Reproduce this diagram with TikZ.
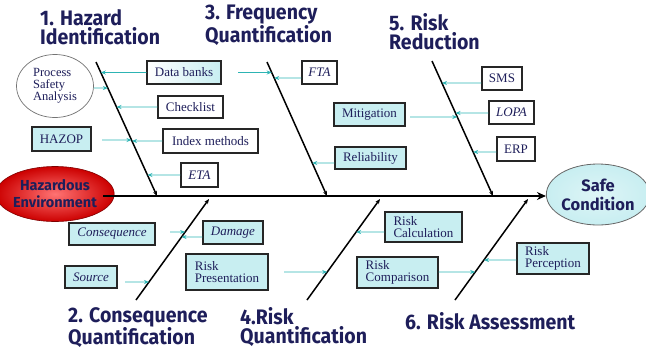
\documentclass[tikz,border=0pt]{standalone}
\usepackage{fontspec}
\setmainfont{Liberation Serif}
\newfontfamily\headfont[FakeStretch=0.93]{Fira Sans}
\newfontfamily\ellfont{Fira Sans}
\usetikzlibrary{arrows.meta,shapes.geometric}
\definecolor{navy}{HTML}{1E1E5A}
\definecolor{teal}{HTML}{2DB4B4}
\definecolor{cyanfill}{HTML}{C8EEF1}
\tikzset{
  heading/.style={anchor=north west,inner sep=0pt,align=left,text=navy,font=\headfont\bfseries\fontsize{21}{19}\selectfont},
  wbox/.style={draw=black!85,line width=1.1pt,fill=white,inner sep=0pt,text=navy,font=\fontsize{13}{12}\selectfont,align=left},
  cbox/.style={wbox,fill=cyanfill},
  gbox/.style={wbox,left color=white,right color=cyanfill},
  tarrow/.style={draw=teal,line width=0.9pt,-{Stealth[length=5pt,width=4pt]}},
  bone/.style={draw=black,line width=1.5pt,-{Stealth[length=5pt,width=4pt]}},
  spine/.style={draw=black,line width=2pt,-{Stealth[length=9pt,width=8pt]}}
}
\newcommand\fishArrow[3]{%
  \coordinate (tmpya) at (0,#3);
  \coordinate (tmpyb) at (10,#3);
  \draw[tarrow] (#1 |- tmpya) -- (intersection of #2t--#2b and tmpya--tmpyb);}
\begin{document}
\begin{tikzpicture}[x=1pt,y=-1pt]
\useasboundingbox (0,0) rectangle (646,349);
% headings
\node[heading] (h1) at (40,9) {1. Hazard\\Identification};
\node[heading] (h3) at (205,5) {3. Frequency\\Quantification};
\node[heading] (h5) at (389,13) {5. Risk\\Reduction};
\node[heading] (h2) at (68,307) {2. Consequence\\Quantification};
\node[heading] (h4) at (240,307) {4.Risk\\Quantification};
\node[heading] (h6) at (405,312) {6. Risk Assessment};
% end ellipses
\node[ellipse,draw=red!50!black,line width=0.6pt,inner color=red!55,outer color=red!80!black,minimum width=104pt,minimum height=55pt,inner sep=0pt,align=center,text=navy,font=\ellfont\bfseries\fontsize{14.5}{17}\selectfont] (haz) at (55,194) {Hazardous\\Environment};
\node[ellipse,draw=black!60,line width=0.8pt,inner color=cyanfill!60,outer color=cyanfill,minimum width=93pt,minimum height=61pt,inner sep=0pt,align=center,text=navy,font=\ellfont\bfseries\fontsize{16.5}{19}\selectfont] (safe) at (598,194.5) {Safe\\Condition};
% spine
\coordinate (sp0) at (103,196);
\draw[spine] (sp0) -- (sp0 -| safe.west);
% bones
\coordinate (b1t) at (96,62);   \coordinate (b1b) at (157,196);
\coordinate (b3t) at (267,62);  \coordinate (b3b) at (327,196);
\coordinate (b5t) at (432,61);  \coordinate (b5b) at (493,196);
\coordinate (b2b) at (136,300); \coordinate (b2t) at (209,199);
\coordinate (b4b) at (307,300); \coordinate (b4t) at (380,199);
\coordinate (b6b) at (455,300); \coordinate (b6t) at (528,199);
\draw[bone] (b1t) -- (b1b);
\draw[bone] (b3t) -- (b3b);
\draw[bone] (b5t) -- (b5b);
\draw[bone] (b2b) -- (b2t);
\draw[bone] (b4b) -- (b4t);
\draw[bone] (b6b) -- (b6t);
% boxes
\node[ellipse,draw=black!55,line width=0.7pt,fill=white,minimum width=77pt,minimum height=63pt,inner sep=0pt,align=left,text=navy,font=\fontsize{12.5}{12}\selectfont] (psa) at (55,86) {Process\\Safety\\Analysis};
\node[gbox,minimum width=74pt,minimum height=23pt] (dbank) at (184,72.5) {Data banks};
\node[wbox,minimum width=65pt,minimum height=22pt] (check) at (190.5,107) {Checklist};
\node[cbox,minimum width=59pt,minimum height=24pt] (hazop) at (61.5,139) {HAZOP};
\node[wbox,minimum width=95pt,minimum height=24pt] (index) at (210.5,141) {Index methods};
\node[wbox,minimum width=37pt,minimum height=24pt] (eta) at (199.5,175) {\itshape ETA};
\node[wbox,minimum width=35pt,minimum height=23pt] (fta) at (319.5,72.5) {\itshape FTA};
\node[cbox,minimum width=71pt,minimum height=23pt] (mitig) at (369.5,114.5) {Mitigation};
\node[cbox,minimum width=71pt,minimum height=22pt] (relia) at (370.5,158) {Reliability};
\node[wbox,minimum width=40pt,minimum height=23pt] (sms) at (502,78.5) {SMS};
\node[wbox,minimum width=45pt,minimum height=23pt] (lopa) at (511.5,112.5) {\itshape LOPA};
\node[wbox,minimum width=38pt,minimum height=24pt] (erp) at (516,149) {ERP};
\node[cbox,minimum width=86pt,minimum height=22pt] (conseq) at (112,234) {\itshape Consequence};
\node[cbox,minimum width=60pt,minimum height=23pt] (damage) at (233,232.5) {\itshape Damage};
\node[cbox,minimum width=52pt,minimum height=22pt] (source) at (91,277) {\itshape Source};
\node[cbox,minimum width=82pt,minimum height=36pt] (rpres) at (227,272) {Risk\\Presentation};
\node[cbox,minimum width=77pt,minimum height=30pt] (rcalc) at (423.5,227) {Risk\\Calculation};
\node[cbox,minimum width=81pt,minimum height=31pt] (rcomp) at (397.5,272.5) {Risk\\Comparison};
\node[cbox,minimum width=72pt,minimum height=31pt] (rperc) at (553,258.5) {Risk\\Perception};
% free arrow starts
\coordinate (f1) at (238,72.5);
\coordinate (f2) at (102,140);
\coordinate (f3) at (410,117);
\coordinate (f4) at (170,232);
\coordinate (f5) at (125,282);
\coordinate (f6) at (284,272);
% arrows
\fishArrow{psa.east}{b1}{88}
\fishArrow{dbank.west}{b1}{72.5}
\fishArrow{f1}{b3}{72.5}
\fishArrow{check.west}{b1}{107}
\fishArrow{f2}{b1}{140}
\fishArrow{index.west}{b1}{141}
\fishArrow{eta.west}{b1}{175}
\fishArrow{fta.west}{b3}{78}
\fishArrow{f3}{b5}{117}
\fishArrow{relia.west}{b3}{163}
\fishArrow{sms.west}{b5}{83}
\fishArrow{lopa.west}{b5}{113}
\fishArrow{erp.west}{b5}{152}
\fishArrow{f4}{b2}{232}
\fishArrow{damage.west}{b2}{237}
\fishArrow{f5}{b2}{282}
\fishArrow{f6}{b4}{272}
\fishArrow{rcalc.west}{b4}{232}
\fishArrow{rcomp.east}{b6}{272}
\fishArrow{rperc.west}{b6}{260}
\end{tikzpicture}
\end{document}
